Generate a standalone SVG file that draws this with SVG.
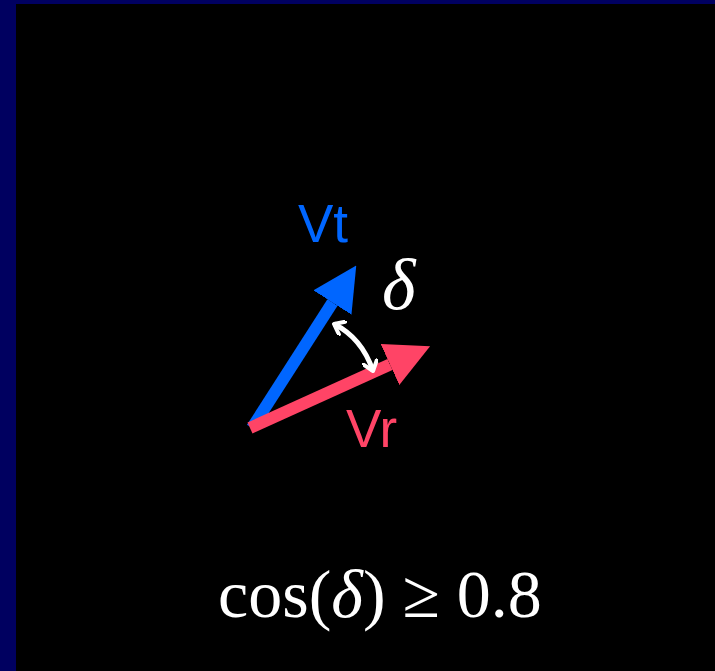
<svg xmlns="http://www.w3.org/2000/svg" width="715" height="671" viewBox="0 0 715 671">
<style>
.vec{stroke-width:12;fill:none}
.lbl{font-family:"Liberation Sans",Arial,sans-serif;font-size:53px}
.math{font-family:"Liberation Serif","Times New Roman",serif;fill:#fff}
</style>
<defs>
<marker id="hb" viewBox="0 0 44 45" refX="0" refY="22.5" markerWidth="44" markerHeight="45" markerUnits="userSpaceOnUse" orient="auto"><path d="M0,0 L44,22.5 L0,45 Z" fill="#0066ff"/></marker>
<marker id="hr" viewBox="0 0 44 45" refX="0" refY="22.5" markerWidth="44" markerHeight="45" markerUnits="userSpaceOnUse" orient="auto"><path d="M0,0 L44,22.5 L0,45 Z" fill="#ff4466"/></marker>
<marker id="hw" viewBox="0 0 14 16" refX="11" refY="8" markerWidth="14" markerHeight="16" markerUnits="userSpaceOnUse" orient="auto-start-reverse"><path d="M2,1 L11,8 L2,15" fill="none" stroke="#fff" stroke-width="4" stroke-linecap="round" stroke-linejoin="round"/></marker>
</defs>
<rect x="0" y="0" width="715" height="671" fill="#000060"/>
<rect x="16" y="4" width="699" height="667" fill="#000"/>
<g id="connectors">
<line id="vt-arrow" class="vec" x1="252" y1="428" x2="332.5" y2="302.5" stroke="#0066ff" marker-end="url(#hb)"/>
<line id="vr-arrow" class="vec" x1="250" y1="428" x2="390" y2="364.5" stroke="#ff4466" marker-end="url(#hr)"/>
<path id="delta-arc" d="M334,324 Q362,338 373,371" fill="none" stroke="#fff" stroke-width="5" marker-start="url(#hw)" marker-end="url(#hw)"/>
</g>
<g id="vt"><text class="lbl" x="298" y="242" fill="#0066ff">Vt</text></g>
<g id="vr"><text class="lbl" x="346" y="447" fill="#ff4466">Vr</text></g>
<g id="delta"><text class="math" x="382" y="309" font-size="72" font-style="italic">δ</text></g>
<g id="formula"><text class="math" x="218" y="617" font-size="68">cos(<tspan font-style="italic">δ</tspan>) ≥ 0.8</text></g>
</svg>
